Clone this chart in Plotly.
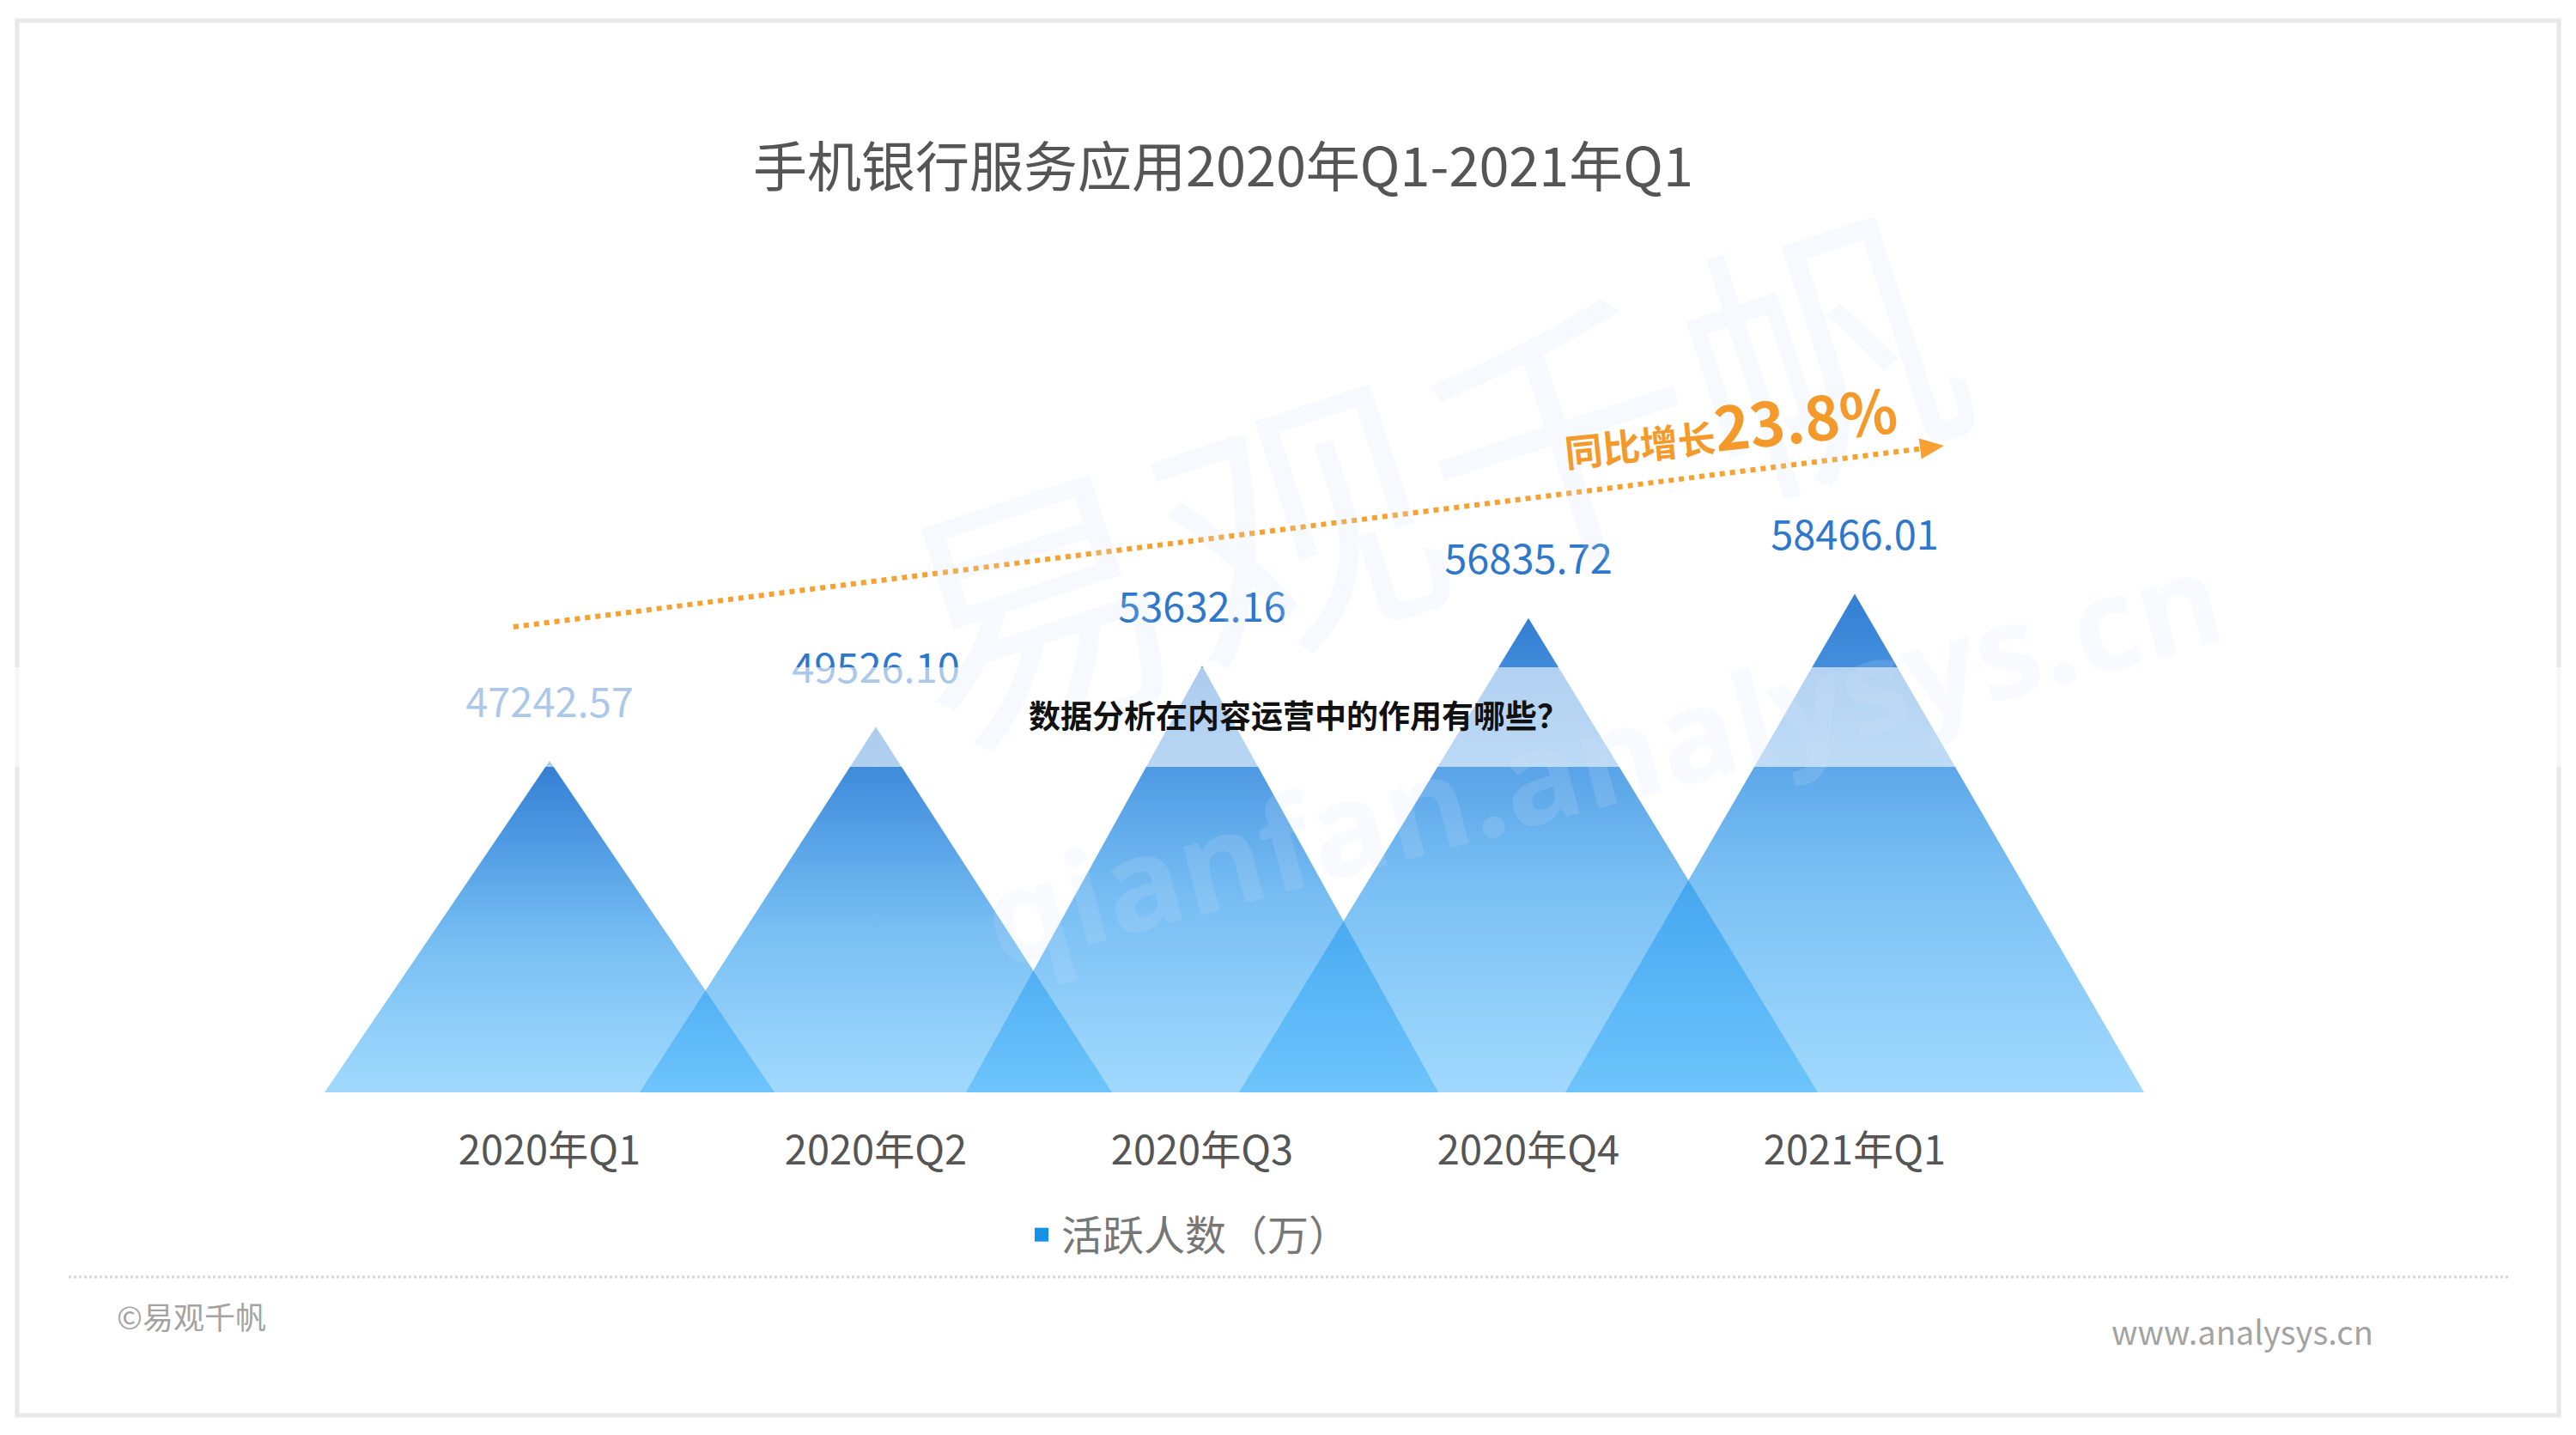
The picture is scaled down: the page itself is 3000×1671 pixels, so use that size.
import plotly.graph_objects as go

# ---------------- data ----------------
categories = ["2020年Q1", "2020年Q2", "2020年Q3", "2020年Q4", "2021年Q1"]
active_users = [47242.57, 49526.10, 53632.16, 56835.72, 58466.01]
value_labels = ["47242.57", "49526.10", "53632.16", "56835.72", "58466.01"]
series_name = "活跃人数（万）"
title_text = "手机银行服务应用2020年Q1-2021年Q1"
growth_label = "同比增长"
growth_value = "23.8%"
overlay_text = "数据分析在内容运营中的作用有哪些？"
source_text = "©易观千帆"
site_text = "www.analysys.cn"
watermark_cn = "易观千帆"
watermark_en = "qianfan.analysys.cn"

# ---------------- layout constants (styling) ----------------
W, H = 3000, 1671
FONT = "Noto Sans CJK SC"
BASELINE_PX = 1272          # plot bottom (triangle bases), px from top
Y_FLOOR = 25000             # value at the baseline
Y_UNITS_PER_PX = 57.64
X0_PX = 640                 # pixel of the first category
X_UNIT_PX = 380.0           # pixels per category step
HALF_WIDTH_PX = [262, 275, 275, 337, 337]


def xp(px):
    return px / W


def yp(py):
    return (BASELINE_PX - py) / BASELINE_PX


grad = [
    [0.0, "rgba(50,172,250,0.46)"],
    [0.45, "rgba(37,150,236,0.62)"],
    [0.75, "rgba(36,130,220,0.80)"],
    [1.0, "rgba(33,114,207,0.92)"],
]

fig = go.Figure()

for i, v in enumerate(active_users):
    hw = HALF_WIDTH_PX[i] / X_UNIT_PX
    fig.add_trace(go.Scatter(
        x=[i - hw, i, i + hw, i - hw],
        y=[Y_FLOOR, v, Y_FLOOR, Y_FLOOR],
        mode="lines", fill="toself",
        fillgradient=dict(type="vertical", colorscale=grad),
        line=dict(width=0, color="rgba(0,0,0,0)"),
        showlegend=False, hoverinfo="skip",
    ))

# value labels (drawn as a trace so the overlay band fades them)
fig.add_trace(go.Scatter(
    x=list(range(len(categories))), y=active_users,
    mode="markers+text", text=value_labels, textposition="top center",
    marker=dict(size=62, color="rgba(0,0,0,0)"),
    textfont=dict(size=47, color="#2d77cd", family=FONT),
    cliponaxis=False, showlegend=False, hoverinfo="skip",
))

# legend entry
fig.add_trace(go.Scatter(
    x=[None], y=[None], mode="markers", name=series_name,
    marker=dict(symbol="square", size=16, color="#1592e6"),
))

shapes = []
# outer frame
shapes.append(dict(type="rect", xref="paper", yref="paper",
                   x0=xp(20), x1=xp(2980), y0=yp(24), y1=yp(1648),
                   line=dict(color="#e8e8e8", width=5), layer="below"))
# separator
shapes.append(dict(type="line", xref="paper", yref="paper",
                   x0=xp(80), x1=xp(2922), y0=yp(1487), y1=yp(1487),
                   line=dict(color="#d6d6d6", width=3, dash="dot")))
# translucent band
shapes.append(dict(type="rect", xref="paper", yref="paper",
                   x0=xp(0), x1=xp(3000), y0=yp(893), y1=yp(777),
                   fillcolor="rgba(255,255,255,0.6)", line=dict(width=0), layer="above"))
# dotted growth arrow
ax0, ay0, ax1, ay1 = 598, 730, 2264, 519
dx, dy = ax1 - ax0, ay1 - ay0
L = (dx * dx + dy * dy) ** 0.5
ux, uy = dx / L, dy / L
nx, ny = -uy, ux
head_len, head_w = 28, 12
bx, by = ax1 - ux * head_len, ay1 - uy * head_len
shapes.append(dict(type="line", xref="paper", yref="paper",
                   x0=xp(ax0), y0=yp(ay0), x1=xp(bx), y1=yp(by),
                   line=dict(color="#f7a133", width=6, dash="dot"), layer="above"))
pts = [(ax1, ay1), (bx + nx * head_w, by + ny * head_w), (bx - nx * head_w, by - ny * head_w)]
path = "M " + " L ".join(f"{xp(a):.5f},{yp(b):.5f}" for a, b in pts) + " Z"
shapes.append(dict(type="path", xref="paper", yref="paper", path=path,
                   fillcolor="#f7a133", line=dict(width=0), layer="above"))


def ann(text, x, y, size, color, family=FONT, angle=0):
    return dict(text=text, x=xp(x), y=yp(y), xref="paper", yref="paper",
                xanchor="center", yanchor="middle", showarrow=False,
                textangle=angle, font=dict(size=size, color=color, family=family))


annotations = [
    ann(watermark_cn, 1660, 545, 320, "rgba(205,226,248,0.18)", angle=-18),
    ann("<b>" + watermark_en + "</b>", 1866, 880, 150, "rgba(205,226,248,0.17)",
        family="Open Sans", angle=-15),
    ann(title_text, 1424, 189, 63, "#555555"),
    ann("<b>" + overlay_text + "</b>", 1512, 832, 37, "#111111"),
    ann("<b><span style='font-size:44px'>" + growth_label + "</span>"
        "<span style='font-size:70px'>" + growth_value + "</span></b>",
        2015, 494, 70, "#f39a2b", angle=-6),
    ann(source_text, 223, 1532, 36, "#a3a3a3"),
    ann(site_text, 2611, 1549, 38, "#a3a3a3"),
]

fig.update_layout(
    width=W, height=H,
    margin=dict(l=0, r=0, t=0, b=H - BASELINE_PX, pad=0),
    paper_bgcolor="white", plot_bgcolor="rgba(0,0,0,0)",
    font=dict(family=FONT),
    shapes=shapes, annotations=annotations,
    showlegend=True,
    legend=dict(orientation="h", x=xp(1190), y=yp(1438), xanchor="left", yanchor="middle",
                font=dict(size=48, color="#777777", family=FONT), itemwidth=36,
                bgcolor="rgba(0,0,0,0)", borderwidth=0),
    xaxis=dict(range=[-X0_PX / X_UNIT_PX, (W - X0_PX) / X_UNIT_PX],
               tickvals=list(range(len(categories))), ticktext=categories,
               tickfont=dict(size=47, color="#555555", family=FONT),
               ticks="", ticklabelstandoff=36,
               showgrid=False, zeroline=False, showline=False, fixedrange=True),
    yaxis=dict(range=[Y_FLOOR, Y_FLOOR + BASELINE_PX * Y_UNITS_PER_PX],
               visible=False, showgrid=False, zeroline=False, fixedrange=True),
)

fig.write_html("out.html")
